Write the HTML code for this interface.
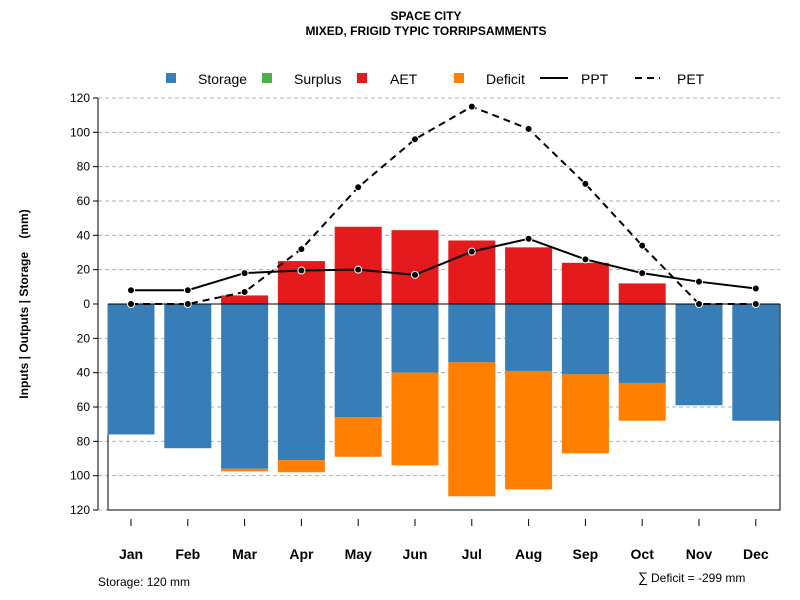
<!DOCTYPE html>
<html><head><meta charset="utf-8"><style>
body{margin:0;background:#fff}
svg{display:block;font-family:"Liberation Sans",sans-serif}
</style></head><body>
<svg id="c" width="800" height="600">
<text x="426" y="20" text-anchor="middle" font-size="12" font-weight="bold">SPACE CITY</text>
<text x="426" y="35" text-anchor="middle" font-size="12" font-weight="bold">MIXED, FRIGID TYPIC TORRIPSAMMENTS</text>
<text transform="translate(28,304) rotate(-90)" text-anchor="middle" font-size="12" font-weight="bold" style="white-space:pre">Inputs | Outputs | Storage    (mm)</text>
<text x="98" y="586" font-size="12">Storage: 120 mm</text>
<text x="638" y="582" font-size="14">∑</text>
<text x="651" y="582" font-size="12">Deficit = -299 mm</text>
<g id="legend">
<rect x="166" y="73" width="10" height="10" fill="#377eb8"/>
<text x="198" y="84" font-size="14">Storage</text>
<rect x="262" y="73" width="10" height="10" fill="#4daf4a"/>
<text x="294" y="84" font-size="14">Surplus</text>
<rect x="357" y="73" width="10" height="10" fill="#e41a1c"/>
<text x="390" y="84" font-size="14">AET</text>
<rect x="454" y="73" width="10" height="10" fill="#ff7f00"/>
<text x="486" y="84" font-size="14">Deficit</text>
<line x1="540" y1="78" x2="568" y2="78" stroke="#000" stroke-width="2"/>
<text x="581" y="84" font-size="14">PPT</text>
<line x1="635" y1="78" x2="660" y2="78" stroke="#000" stroke-width="2" stroke-dasharray="7,5"/>
<text x="677" y="84" font-size="14">PET</text>
</g>
</svg>
<script>
const months=["Jan","Feb","Mar","Apr","May","Jun","Jul","Aug","Sep","Oct","Nov","Dec"];
const storage=[76,84,96,91,66,40,34,39,41,46,59,68];
const deficit=[0,0,1.5,7,23,54,78,69,46,22,0,0];
const aet=[0,0,5,25,45,43,37,33,24,12,0,0];
const ppt=[8,8,18,19.5,20,17,30.5,38,26,18,13,9];
const pet=[0,0,7,32,68,96,115,102,70,34,0,0];
const ticks=[120,100,80,60,40,20,0,-20,-40,-60,-80,-100,-120];
const NS="http://www.w3.org/2000/svg";
const svg=document.getElementById('c');
const y=v=>304-v*206/120;
const x=i=>131+i*56.8;
const bw=47;
function mk(t,a,p){const e=document.createElementNS(NS,t);for(const k in a)e.setAttribute(k,a[k]);(p||svg).appendChild(e);return e;}
ticks.forEach(t=>{
 if(t!==0){const g=mk('line',{x1:98,x2:780,y1:y(t),y2:y(t),stroke:'#b0b0b0','stroke-dasharray':'4,3'});
 
 }
 const l=mk('line',{x1:93,x2:98,y1:y(t),y2:y(t),stroke:'#000'});
 
 
 const tx=mk('text',{x:90,y:y(t)+4,'text-anchor':'end','font-size':12});
 tx.textContent=Math.abs(t);
 
 
});
const ax=mk('line',{x1:98,x2:98,y1:y(120),y2:y(-120),stroke:'#000'});


const box=mk('path',{d:`M108 ${y(0)} V${y(-120)} H780 V${y(0)}`,fill:'none',stroke:'#000'});


months.forEach((m,i)=>{
 const s=mk('rect',{x:x(i)-bw/2,y:y(0),width:bw,height:y(-storage[i])-y(0),fill:'#377eb8'});
 
 
 if(deficit[i]>0){const d=mk('rect',{x:x(i)-bw/2,y:y(-storage[i]),width:bw,height:y(-storage[i]-deficit[i])-y(-storage[i]),fill:'#ff7f00'});
 
 }
 if(aet[i]>0){const a=mk('rect',{x:x(i)-bw/2,y:y(aet[i]),width:bw,height:y(0)-y(aet[i]),fill:'#e41a1c'});
 
 }
 const tk=mk('line',{x1:x(i),x2:x(i),y1:519,y2:526,stroke:'#000'});
 
 
 const lb=mk('text',{x:x(i),y:559,'text-anchor':'middle','font-size':14,'font-weight':'bold'});
 lb.textContent=m;
 
 
});
const zl=mk('line',{x1:108,x2:780,y1:y(0),y2:y(0),stroke:'#000'});


function series(arr,name,dash){
 const p=mk('polyline',{points:arr.map((v,i)=>x(i)+','+y(v)).join(' '),fill:'none',stroke:'#000','stroke-width':2,'stroke-dasharray':dash});
 
 
 arr.forEach((v,i)=>{const c=mk('circle',{cx:x(i),cy:y(v),r:3.5,fill:'#000',stroke:'#fff','stroke-width':1});
 
 });
}
series(pet,'pet','7,5');
series(ppt,'ppt','none');
</script>
</body></html>
